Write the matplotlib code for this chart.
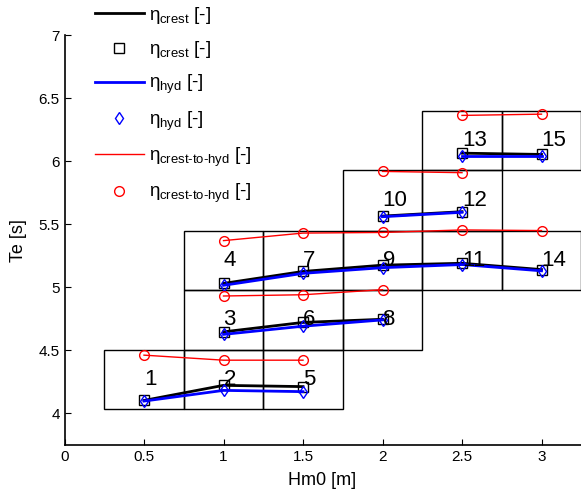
import matplotlib
matplotlib.use('Agg')
from matplotlib import pyplot as plt
from matplotlib.patches import Rectangle
from matplotlib.lines import Line2D

plt.rcParams['font.family'] = ['Liberation Sans', 'DejaVu Sans']
plt.rcParams['mathtext.fontset'] = 'custom'
plt.rcParams['mathtext.rm'] = 'Liberation Sans'
plt.rcParams['mathtext.it'] = 'Liberation Sans'

# Te bin edges (rows of the grid)
te_edges = [4.03, 4.50, 4.98, 5.45, 5.93, 6.40]
hm0_width = 0.5

# one entry per Te row: Hm0 values, case numbers, and the three quantities
hm0 = [[0.5, 1.0, 1.5],
       [1.0, 1.5, 2.0],
       [1.0, 1.5, 2.0, 2.5, 3.0],
       [2.0, 2.5],
       [2.5, 3.0]]
case_nr = [[1, 2, 5],
           [3, 6, 8],
           [4, 7, 9, 11, 14],
           [10, 12],
           [13, 15]]
eta_crest = [[4.10, 4.22, 4.21],
             [4.645, 4.72, 4.745],
             [5.03, 5.125, 5.175, 5.19, 5.14],
             [5.565, 5.60],
             [6.065, 6.055]]
eta_hyd = [[4.095, 4.18, 4.17],
           [4.625, 4.69, 4.74],
           [5.015, 5.11, 5.155, 5.18, 5.13],
           [5.56, 5.595],
           [6.045, 6.045]]
eta_c2h = [[4.46, 4.42, 4.42],
           [4.93, 4.94, 4.98],
           [5.37, 5.43, 5.435, 5.455, 5.45],
           [5.92, 5.91],
           [6.365, 6.375]]

fig = plt.figure(figsize=(5.81, 4.94), dpi=100)
W, H = 581.0, 494.0
x0, x1 = 64.5, 64.5 + 3.5 * 159.0
y_top, y_bot = 35.5, 445.0
ax = fig.add_axes([x0 / W, (H - y_bot) / H, (x1 - x0) / W, (y_bot - y_top) / H])

for i in range(len(hm0)):
    lo, hi = te_edges[i], te_edges[i + 1]
    for x, n in zip(hm0[i], case_nr[i]):
        ax.add_patch(Rectangle((x - hm0_width / 2, lo), hm0_width, hi - lo,
                               fill=False, edgecolor='k', lw=1, zorder=1))
        ax.text(x, (lo + hi) / 2, str(n), fontsize=16, ha='left', va='center', zorder=5)
    ax.plot(hm0[i], eta_crest[i], 'k-', lw=2, zorder=2)
    ax.plot(hm0[i], eta_crest[i], 'ks', mfc='none', ms=7, mew=1, zorder=2)
    ax.plot(hm0[i], eta_hyd[i], 'b-', lw=2, zorder=3)
    ax.plot(hm0[i], eta_hyd[i], 'bd', mfc='none', ms=6, mew=1, zorder=3)
    ax.plot(hm0[i], eta_c2h[i], 'r-', lw=1, zorder=4)
    ax.plot(hm0[i], eta_c2h[i], 'ro', mfc='none', ms=7, mew=1, zorder=4)

ax.set_xlim(0, 3.5)
ax.set_ylim(3.746, 7)
ax.set_xticks([0, 0.5, 1, 1.5, 2, 2.5, 3])
ax.set_xticklabels(['0', '0.5', '1', '1.5', '2', '2.5', '3'])
ax.set_yticks([4, 4.5, 5, 5.5, 6, 6.5, 7])
ax.set_yticklabels(['4', '4.5', '5', '5.5', '6', '6.5', '7'])
ax.tick_params(direction='in', labelsize=11, length=4, width=0.8)
ax.spines['top'].set_visible(False)
ax.spines['right'].set_visible(False)
for s in ['left', 'bottom']:
    ax.spines[s].set_linewidth(1.2)

ax.set_xlabel('Hm0 [m]', fontsize=13)
ax.xaxis.set_label_coords((322 - x0) / (x1 - x0), -0.065)
ax.set_ylabel('Te [s]', fontsize=13)
ax.yaxis.set_label_coords(-0.068, 0.5)

hy = '\u2010'
handles = [Line2D([], [], color='k', lw=2),
           Line2D([], [], color='k', marker='s', ls='none', mfc='none', ms=7),
           Line2D([], [], color='b', lw=2),
           Line2D([], [], color='b', marker='d', ls='none', mfc='none', ms=6),
           Line2D([], [], color='r', lw=1),
           Line2D([], [], color='r', marker='o', ls='none', mfc='none', ms=7)]
labels = [r'$\eta_{\rm crest}$ [-]', r'$\eta_{\rm crest}$ [-]',
          r'$\eta_{\rm hyd}$ [-]', r'$\eta_{\rm hyd}$ [-]',
          r'$\eta_{\rm crest' + hy + 'to' + hy + 'hyd}$ [-]',
          r'$\eta_{\rm crest' + hy + 'to' + hy + 'hyd}$ [-]']
fig.legend(handles, labels, loc='upper left', bbox_to_anchor=(95 / W, 0.99),
           frameon=False, fontsize=13.5, handlelength=2.6, handletextpad=0.3,
           borderpad=0.0, borderaxespad=0.0, labelspacing=0.7)

fig.savefig('out.png', dpi=100)
